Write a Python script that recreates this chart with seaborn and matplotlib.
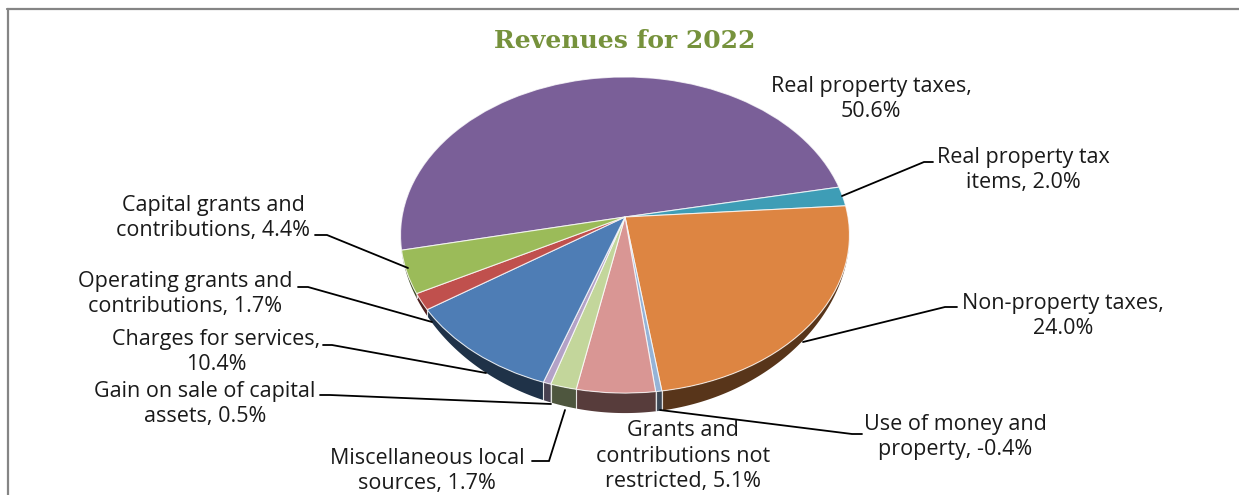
import numpy as np
import matplotlib
matplotlib.use("Agg")
import matplotlib.pyplot as plt
import seaborn as sns
from matplotlib.transforms import Transform
from matplotlib.patches import Polygon
from matplotlib.lines import Line2D

# Revenue sources (clockwise from the top slice) and their shares in percent
categories = [
    "Real property taxes", "Real property tax items", "Non-property taxes",
    "Use of money and property", "Grants and contributions not restricted",
    "Miscellaneous local sources", "Gain on sale of capital assets",
    "Charges for services", "Operating grants and contributions",
    "Capital grants and contributions",
]
shares = [50.6, 2.0, 24.0, -0.4, 5.1, 1.7, 0.5, 10.4, 1.7, 4.4]
label_names = [
    "Real property taxes,\n", "Real property tax\nitems, ", "Non-property taxes,\n",
    "Use of money and\nproperty, ", "Grants and\ncontributions not\nrestricted, ",
    "Miscellaneous local\nsources, ", "Gain on sale of capital\nassets, ",
    "Charges for services,\n", "Operating grants and\ncontributions, ",
    "Capital grants and\ncontributions, ",
]
title = "Revenues for 2022"

top_colors = ["#7a5f98", "#3e9db6", "#dd8542", "#95b3d7", "#d99694",
              "#c3d69b", "#b3a2c7", "#4e7db5", "#c0504d", "#9bbb59"]

# label block centres and leader-line routes (pixel coordinates, y down)
label_pos = [(871, 99), (1023, 170), (1063, 316), (955, 437), (683, 456),
             (427, 471), (205, 404), (216, 352), (185, 294), (213, 218)]
leaders = [
    None,
    [(842, 196), (924, 162), (933, 162)],
    [(803, 342), (945, 307), (957, 307)],
    [(660, 410), (852, 434), (862, 434)],
    None,
    [(565, 410), (549, 461), (532, 461)],
    [(320, 395), (330, 395), (551, 404)],
    [(323, 345), (332, 345), (486, 373)],
    [(298, 287), (308, 287), (432, 322)],
    [(315, 235), (327, 235), (408, 268)],
]

W, H = 1239, 495
CX, CY, RX, RY, K = 625.0, 217.0, 223.0, 156.0, 0.114
DEPTH = 20.0


class TiltedDisc(Transform):
    """Maps the unit pie disc onto a tilted ellipse seen in perspective."""
    input_dims = output_dims = 2
    is_separable = False
    has_inverse = False

    def transform_non_affine(self, values):
        values = np.asarray(values, dtype=float)
        u, v = values[:, 0], values[:, 1]
        w = 1.0 + K * v
        return np.column_stack([CX + RX * u / w, CY - RY * v / w])


def darker(c, f=0.40):
    r, g, b = matplotlib.colors.to_rgb(c)
    return (r * f, g * f, b * f)


sns.set_theme(style="white")
plt.rcParams["font.family"] = ["Open Sans", "DejaVu Sans"]

fig = plt.figure(figsize=(W / 100, H / 100), dpi=100)
fig.patch.set_facecolor("white")
ax = fig.add_axes([0, 0, 1, 1])

disc = TiltedDisc()
sizes = np.abs(shares)
wedges, _ = ax.pie(
    sizes, colors=top_colors, startangle=192, counterclock=False,
    radius=1.0, center=(0, 0), frame=True,
    wedgeprops=dict(edgecolor=(1, 1, 1, 0.75), linewidth=0.8),
)
for w in wedges:
    w.set_transform(disc + ax.transData)
    w.set_zorder(3)

# side walls of the slices facing the viewer
for w, c in zip(wedges, top_colors):
    t = np.radians(np.linspace(w.theta1, w.theta2, 240))
    rim = disc.transform(np.column_stack([np.cos(t), np.sin(t)]))
    d = DEPTH * np.clip(-np.sin(t), 0, None) ** 2
    if d.max() < 0.5:
        continue
    low = rim.copy()
    low[:, 1] += d
    poly = np.vstack([rim, low[::-1]])
    ax.add_patch(Polygon(poly, closed=True, facecolor=darker(c),
                         edgecolor="none", zorder=2))
    for ang in (w.theta1, w.theta2):
        a = np.radians(ang)
        if np.sin(a) < 0:
            p = disc.transform(np.array([[np.cos(a), np.sin(a)]]))[0]
            dd = DEPTH * (-np.sin(a)) ** 2
            ax.add_line(Line2D([p[0], p[0]], [p[1], p[1] + dd],
                               color=(1, 1, 1, 0.6), lw=0.8, zorder=2.5))

# data labels with leader lines
for name, val, pos, route in zip(label_names, shares, label_pos, leaders):
    ax.text(pos[0], pos[1], f"{name}{val:.1f}%", ha="center", va="center",
            multialignment="center", fontsize=15.5, color="#1a1a1a",
            linespacing=1.25, zorder=5)
    if route:
        xs, ys = zip(*route)
        ax.add_line(Line2D(xs, ys, color="black", lw=1.3, zorder=4,
                           solid_joinstyle="miter"))

ax.text(625, 41, title, ha="center", va="center", fontsize=18,
        fontweight="bold", color="#76923c", family="DejaVu Serif", zorder=5)

# chart frame (top and left edges)
ax.add_line(Line2D([7, W], [8.5, 8.5], color="#858585", lw=1.6, zorder=6))
ax.add_line(Line2D([8, 8], [8.5, H], color="#858585", lw=1.6, zorder=6))

ax.set_xlim(0, W)
ax.set_ylim(H, 0)
ax.set_aspect("auto")
ax.axis("off")

fig.savefig("out.png", dpi=100, facecolor="white")
